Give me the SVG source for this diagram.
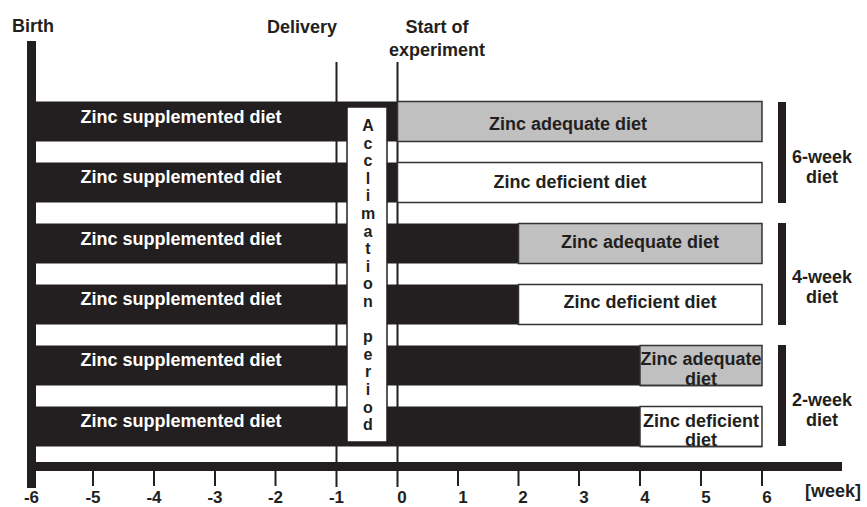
<svg xmlns="http://www.w3.org/2000/svg" width="867" height="507" viewBox="0 0 867 507">
<style>
text{font-family:"Liberation Sans",Arial,sans-serif;font-weight:bold;fill:#231f20}
.lbl{font-size:18px}
.w{fill:#ffffff;font-size:18px}
.blk{fill:#231f20}
.ade{fill:#c0c0c0;stroke:#333;stroke-width:1.5}
.def{fill:#ffffff;stroke:#333;stroke-width:1.5}
.ln{stroke:#231f20;stroke-width:2;fill:none}
.tk{font-size:17px;text-anchor:middle}
.mid{text-anchor:middle}
</style>
<rect width="867" height="507" fill="#ffffff"/>
<g id="connectors">
<line class="ln" x1="336.5" y1="62" x2="336.5" y2="487"/>
<line class="ln" x1="397.5" y1="62" x2="397.5" y2="487"/>
<g id="ticks">
<line class="ln" x1="93" y1="471" x2="93" y2="486"/>
<line class="ln" x1="154" y1="471" x2="154" y2="486"/>
<line class="ln" x1="215" y1="471" x2="215" y2="486"/>
<line class="ln" x1="275.5" y1="471" x2="275.5" y2="486"/>
<line class="ln" x1="458" y1="471" x2="458" y2="486"/>
<line class="ln" x1="518.5" y1="471" x2="518.5" y2="486"/>
<line class="ln" x1="579" y1="471" x2="579" y2="486"/>
<line class="ln" x1="640" y1="471" x2="640" y2="486"/>
<line class="ln" x1="701" y1="471" x2="701" y2="486"/>
<line class="ln" x1="762" y1="471" x2="762" y2="486"/>
</g>
</g>
<g id="axis">
<rect class="blk" x="27" y="41" width="9" height="447"/>
<rect class="blk" x="27" y="462" width="815" height="9"/>
</g>
<g id="labels-top">
<text class="lbl" x="12" y="32">Birth</text>
<text class="lbl mid" x="302" y="33">Delivery</text>
<text class="lbl mid" x="437" y="33">Start of</text>
<text class="lbl mid" x="437" y="56">experiment</text>
</g>
<g id="row1">
<rect class="blk" x="36" y="101.5" width="361.5" height="40"/>
<rect class="ade" x="397.5" y="101.5" width="364.5" height="40"/>
<text class="w mid" x="181" y="123">Zinc supplemented diet</text>
<text class="lbl mid" x="568" y="130">Zinc adequate diet</text>
</g>
<g id="row2">
<rect class="blk" x="36" y="162.5" width="361.5" height="40"/>
<rect class="def" x="397.5" y="162.5" width="364.5" height="40"/>
<text class="w mid" x="181" y="183">Zinc supplemented diet</text>
<text class="lbl mid" x="570" y="188">Zinc deficient diet</text>
</g>
<g id="row3">
<rect class="blk" x="36" y="223.5" width="482.5" height="40"/>
<rect class="ade" x="518.5" y="223.5" width="243.5" height="40"/>
<text class="w mid" x="181" y="245">Zinc supplemented diet</text>
<text class="lbl mid" x="640" y="248">Zinc adequate diet</text>
</g>
<g id="row4">
<rect class="blk" x="36" y="284.5" width="482.5" height="40"/>
<rect class="def" x="518.5" y="284.5" width="243.5" height="40"/>
<text class="w mid" x="181" y="305">Zinc supplemented diet</text>
<text class="lbl mid" x="640" y="308">Zinc deficient diet</text>
</g>
<g id="row5">
<rect class="blk" x="36" y="345.5" width="604" height="40"/>
<rect class="ade" x="640" y="345.5" width="122" height="40"/>
<text class="w mid" x="181" y="366">Zinc supplemented diet</text>
<text class="lbl mid" x="701" y="365">Zinc adequate</text>
<text class="lbl mid" x="701" y="385">diet</text>
<line x1="640" y1="385.5" x2="762" y2="385.5" stroke="#333" stroke-width="1.5"/>
</g>
<g id="row6">
<rect class="blk" x="36" y="406.5" width="604" height="40"/>
<rect class="def" x="640" y="406.5" width="122" height="40"/>
<text class="w mid" x="181" y="427">Zinc supplemented diet</text>
<text class="lbl mid" x="701" y="427">Zinc deficient</text>
<text class="lbl mid" x="701" y="446">diet</text>
<line x1="640" y1="446.5" x2="762" y2="446.5" stroke="#333" stroke-width="1.5"/>
</g>
<g id="acclimation">
<rect x="347" y="107" width="40" height="335" fill="#ffffff" stroke="#231f20" stroke-width="1.5"/>
<text class="mid" style="font-size:16px" x="368" y="131">
<tspan x="368">A</tspan><tspan x="368" dy="17.6">c</tspan><tspan x="368" dy="17.6">c</tspan><tspan x="368" dy="17.6">l</tspan><tspan x="368" dy="17.6">i</tspan><tspan x="368" dy="17.6">m</tspan><tspan x="368" dy="17.6">a</tspan><tspan x="368" dy="17.6">t</tspan><tspan x="368" dy="17.6">i</tspan><tspan x="368" dy="17.6">o</tspan><tspan x="368" dy="17.6">n</tspan><tspan x="368" dy="35.2">p</tspan><tspan x="368" dy="17.6">e</tspan><tspan x="368" dy="17.6">r</tspan><tspan x="368" dy="17.6">i</tspan><tspan x="368" dy="17.6">o</tspan><tspan x="368" dy="17.6">d</tspan>
</text>
</g>
<g id="group-6week">
<rect class="blk" x="778" y="102" width="8" height="101"/>
<text class="lbl mid" x="822" y="163">6-week</text>
<text class="lbl mid" x="822" y="183">diet</text>
</g>
<g id="group-4week">
<rect class="blk" x="778" y="223" width="8" height="102"/>
<text class="lbl mid" x="822" y="283">4-week</text>
<text class="lbl mid" x="822" y="303">diet</text>
</g>
<g id="group-2week">
<rect class="blk" x="778" y="345" width="8" height="101"/>
<text class="lbl mid" x="822" y="406">2-week</text>
<text class="lbl mid" x="822" y="426">diet</text>
</g>
<g id="tick-labels">
<text class="tk" x="31.5" y="503">-6</text>
<text class="tk" x="93" y="503">-5</text>
<text class="tk" x="154" y="503">-4</text>
<text class="tk" x="215" y="503">-3</text>
<text class="tk" x="275.5" y="503">-2</text>
<text class="tk" x="336.5" y="503">-1</text>
<text class="tk" x="402" y="503">0</text>
<text class="tk" x="463" y="503">1</text>
<text class="tk" x="523" y="503">2</text>
<text class="tk" x="584" y="503">3</text>
<text class="tk" x="645" y="503">4</text>
<text class="tk" x="706" y="503">5</text>
<text class="tk" x="767" y="503">6</text>
<text class="lbl" x="805" y="497">[week]</text>
</g>
</svg>
